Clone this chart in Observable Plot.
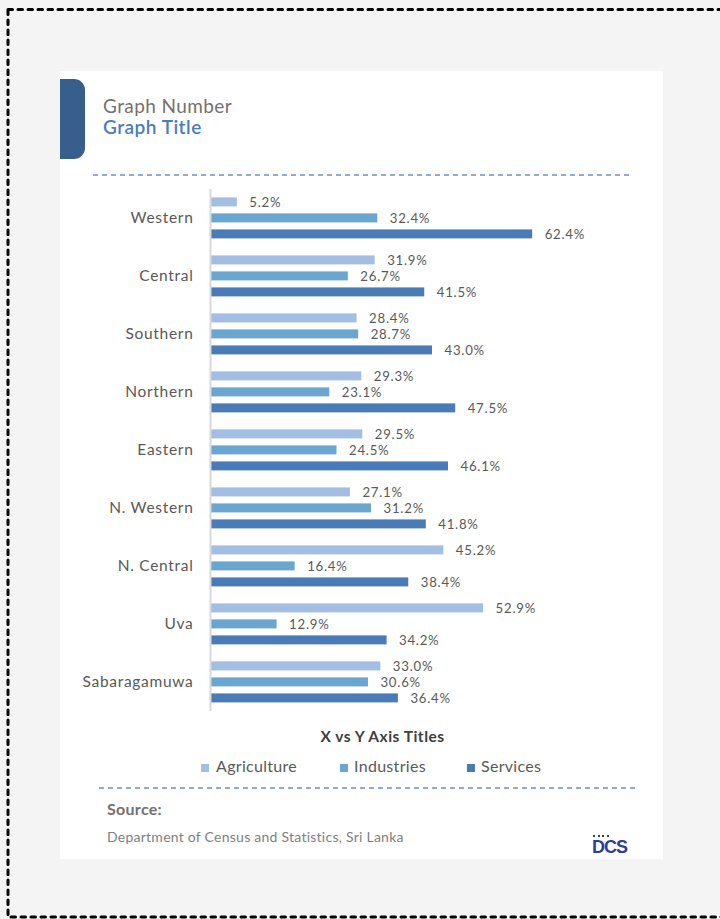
<!DOCTYPE html>
<html>
<head>
<meta charset="utf-8">
<script src="https://cdn.jsdelivr.net/npm/d3@7"></script>
<script src="https://cdn.jsdelivr.net/npm/@observablehq/plot@0.6"></script>
<style>
  html, body { margin: 0; padding: 0; }
  body { width: 720px; height: 919px; background: #f4f4f4; position: relative; overflow: hidden; font-family: Lato, "Open Sans", sans-serif; }
  .abs { position: absolute; white-space: nowrap; line-height: 1; }
  #card { position: absolute; left: 60px; top: 71px; width: 603px; height: 788px; background: #fff; }
  #tab { position: absolute; left: 60px; top: 79px; width: 25px; height: 80px; background: #375e8c; border-radius: 0 11px 11px 0; }
  .dash { position: absolute; height: 2px; background: repeating-linear-gradient(90deg, #8eaadb 0 5px, transparent 5px 9px); }
  .sq { position: absolute; width: 8px; height: 8px; }
  #chart { position: absolute; left: 60px; top: 180px; line-height: 0; }
  #chart svg { display: block; }
</style>
</head>
<body>
<svg class="abs" style="left:0;top:0" width="720" height="919">
  <rect x="8" y="9.5" width="760" height="907.5" fill="none" stroke="#000" stroke-width="3" stroke-dasharray="4.5 5.5" stroke-linecap="round"/>
</svg>
<div id="card"></div>
<div id="tab"></div>
<div class="abs" style="left:103px;top:96px;font-size:19px;letter-spacing:0.4px;color:#757070;">Graph Number</div>
<div class="abs" style="left:103px;top:117px;font-size:19px;letter-spacing:0.5px;color:#4a7dbf;font-weight:600;">Graph Title</div>
<div class="dash" style="left:93px;top:174px;width:536px;"></div>
<div id="chart"></div>
<div class="abs" id="axtitle" style="left:0;width:765px;text-align:center;top:729px;font-size:15.5px;letter-spacing:0.5px;font-weight:700;color:#404040;">X vs Y Axis Titles</div>
<div id="legend"></div>
<div class="dash" style="left:99px;top:787px;width:537px;"></div>
<div class="abs" style="left:107px;top:800.5px;font-size:16px;letter-spacing:0.3px;font-weight:700;color:#757070;">Source:</div>
<div class="abs" style="left:107px;top:829.5px;font-size:14px;letter-spacing:0.25px;color:#7f7f7f;">Department of Census and Statistics, Sri Lanka</div>
<div class="abs" style="left:593px;top:835px;width:16px;height:2px;background:repeating-linear-gradient(90deg,#2a3e9b 0 2px,transparent 2px 4.5px);"></div>
<div class="abs" style="left:592px;top:838px;font-size:18px;font-weight:700;color:#2a3e9b;letter-spacing:-1px;font-family:'Liberation Sans',Arial,sans-serif;">DCS</div>
<script>
const regions = ["Western", "Central", "Southern", "Northern", "Eastern", "N. Western", "N. Central", "Uva", "Sabaragamuwa"];
const series = ["Agriculture", "Industries", "Services"];
const agriculture = [5.2, 31.9, 28.4, 29.3, 29.5, 27.1, 45.2, 52.9, 33.0];
const industries  = [32.4, 26.7, 28.7, 23.1, 24.5, 31.2, 16.4, 12.9, 30.6];
const services    = [62.4, 41.5, 43.0, 47.5, 46.1, 41.8, 38.4, 34.2, 36.4];
const colors = ["#a4bde2", "#6aa6cf", "#4a7bb7"];

const cols = [agriculture, industries, services];
const data = regions.flatMap((r, i) => series.map((s, j) => ({region: r, series: s, value: cols[j][i]})));

const chart = Plot.plot({
  width: 603,
  height: 541,
  marginLeft: 150,
  marginRight: 40,
  marginTop: 7.6,
  marginBottom: 8.6,
  style: {fontFamily: "Lato, 'Open Sans', sans-serif", background: "transparent", overflow: "visible"},
  x: {domain: [0, 80], axis: null},
  y: {domain: series, axis: null, paddingInner: 0.46, paddingOuter: 0.535},
  fy: {domain: regions, padding: 0, axis: null},
  color: {domain: series, range: colors},
  marks: [
    Plot.barX(data, {x: "value", y: "series", fy: "region", fill: "series"}),
    Plot.text(data, {x: "value", y: "series", fy: "region", text: d => d.value.toFixed(1) + "%", textAnchor: "start", dx: 12, fill: "#595959", fontSize: 13.2}),
    Plot.ruleX([0], {stroke: "#d9d9d9", strokeWidth: 2}),
    Plot.axisFy({anchor: "left", tickSize: 0, tickPadding: 17, fontSize: 15.5, fill: "#595959", label: null})
  ]
});
chart.querySelectorAll("text").forEach(t => {
  if (regions.includes(t.textContent)) t.style.letterSpacing = "0.7px";
  else if (t.textContent.endsWith("%")) t.style.letterSpacing = "0.75px";
});
document.getElementById("chart").appendChild(chart);

const legendPos = [[201, 216], [340, 354], [467, 481]];
const legend = document.getElementById("legend");
series.forEach((s, i) => {
  const sq = document.createElement("div");
  sq.className = "sq";
  sq.style.left = legendPos[i][0] + "px";
  sq.style.top = "764px";
  sq.style.background = colors[i];
  legend.appendChild(sq);
  const t = document.createElement("div");
  t.className = "abs";
  t.style.left = legendPos[i][1] + "px";
  t.style.top = "758px";
  t.style.fontSize = "16px";
  t.style.letterSpacing = "0.3px";
  t.style.color = "#595959";
  t.textContent = s;
  legend.appendChild(t);
});
</script>
</body>
</html>
